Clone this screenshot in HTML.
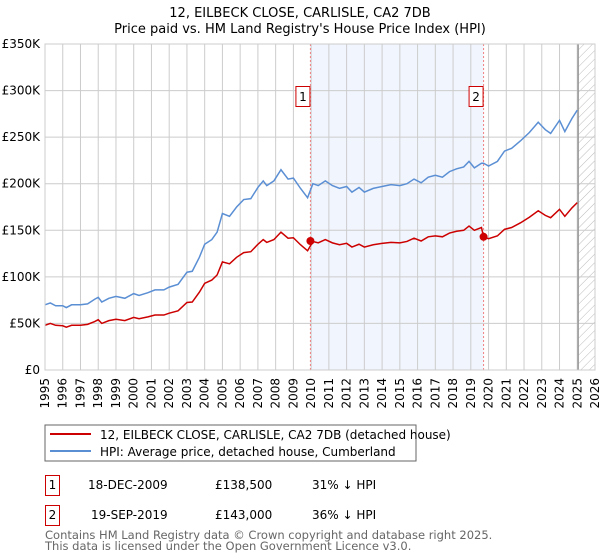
<!DOCTYPE html>
<html><head><meta charset="utf-8"><style>
body{margin:0;width:600px;height:560px;background:#fff;font-family:"Liberation Sans","DejaVu Sans",sans-serif;overflow:hidden}
svg{position:absolute;left:0;top:0}
.t{font-family:"DejaVu Sans","Liberation Sans",sans-serif}
</style></head><body>
<svg width="600" height="560">
<defs><pattern id="hatch" width="6" height="6" patternUnits="userSpaceOnUse" patternTransform="rotate(45)"><line x1="0" y1="0" x2="0" y2="6" stroke="#bbb" stroke-width="1"/></pattern></defs>
<text class="t" x="300" y="17" text-anchor="middle" font-size="13">12, EILBECK CLOSE, CARLISLE, CA2 7DB</text>
<text class="t" x="300" y="33" text-anchor="middle" font-size="13">Price paid vs. HM Land Registry's House Price Index (HPI)</text>
<g id="plot"></g>
<rect x="45" y="425" width="371" height="36" fill="#fff" stroke="#666"/>
<line x1="50" y1="434" x2="91" y2="434" stroke="#cc0000" stroke-width="2"/>
<text class="t" x="100" y="439" font-size="12">12, EILBECK CLOSE, CARLISLE, CA2 7DB (detached house)</text>
<line x1="50" y1="451" x2="91" y2="451" stroke="#5b8fd4" stroke-width="2"/>
<text class="t" x="100" y="456" font-size="12">HPI: Average price, detached house, Cumberland</text>
<g class="t" font-size="12">
<rect x="45.5" y="475.5" width="14" height="20" fill="#fff" stroke="#cc0000"/>
<text x="52.5" y="489" text-anchor="middle">1</text>
<text x="88" y="489">18-DEC-2009</text>
<text x="215" y="489">£138,500</text>
<text x="312" y="489">31% ↓ HPI</text>
<rect x="45.5" y="505.5" width="14" height="20" fill="#fff" stroke="#cc0000"/>
<text x="52.5" y="519" text-anchor="middle">2</text>
<text x="91" y="519">19-SEP-2019</text>
<text x="215" y="519">£143,000</text>
<text x="312" y="519">36% ↓ HPI</text>
</g>
<text class="t" x="45" y="539" font-size="11.5" fill="#666">Contains HM Land Registry data © Crown copyright and database right 2025.</text>
<text class="t" x="45" y="550" font-size="11.5" fill="#666">This data is licensed under the Open Government Licence v3.0.</text>
</svg>
<script>
const dates=[1995.0,1995.3,1995.6,1996.0,1996.2,1996.5,1997.0,1997.4,1997.8,1998.0,1998.2,1998.6,1999.0,1999.5,2000.0,2000.3,2000.8,2001.2,2001.7,2002.0,2002.5,2003.0,2003.3,2003.7,2004.0,2004.4,2004.7,2005.0,2005.4,2005.8,2006.2,2006.6,2007.0,2007.3,2007.5,2007.9,2008.3,2008.7,2009.0,2009.4,2009.8,2010.1,2010.4,2010.8,2011.2,2011.6,2012.0,2012.3,2012.7,2013.0,2013.5,2014.0,2014.5,2015.0,2015.4,2015.8,2016.2,2016.6,2017.0,2017.4,2017.8,2018.2,2018.6,2018.9,2019.2,2019.6,2019.72,2020.0,2020.5,2020.9,2021.3,2021.8,2022.3,2022.8,2023.2,2023.5,2024.0,2024.3,2024.7,2025.0];
const hpiValues=[70,72,69,69,67,70,70,71,76,78,73,77,79,77,82,80,83,86,86,89,92,105,106,121,135,140,148,168,165,175,183,184,196,203,198,203,215,205,206,195,185,200,198,203,198,195,197,191,196,191,195,197,199,198,200,205,201,207,209,207,213,216,218,224,217,222,222,219,224,235,238,246,255,266,258,254,268,256,270,279];
const priceValues=[48,50,48,47.5,46,48,48,49,52,54,50,53,54.5,53,56.5,55,57,59,59,61,63.5,72.5,73,83.5,93,96.5,102,116,114,121,126,127,135,140,137,140,148,141.5,142,134.5,128,138,136.5,140,136.5,134.5,136,132,135,132,134.5,136,137,136.5,138,141.5,138.5,143,144,143,147,149,150,154.5,150,153,143,141,144,151,153,158,164,171,166,163.5,172.5,165,174,179.7];
const saleDates=[2009.96,2019.72];
const salePrices=[138.5,143];
const yTicks=[0,50,100,150,200,250,300,350];
const yTickLabels=["£0","£50K","£100K","£150K","£200K","£250K","£300K","£350K"];
const xYears=[1995,1996,1997,1998,1999,2000,2001,2002,2003,2004,2005,2006,2007,2008,2009,2010,2011,2012,2013,2014,2015,2016,2017,2018,2019,2020,2021,2022,2023,2024,2025,2026];

const L=45,R=595,T=44,B=370,X0=1995,X1=2026,YMAX=350;
const xs=d=>L+(d-X0)/(X1-X0)*(R-L);
const ys=v=>B-v/YMAX*(B-T);
const NS="http://www.w3.org/2000/svg";
const g=document.getElementById('plot');
function mk(tag,attrs,parent){const e=document.createElementNS(NS,tag);for(const k in attrs)e.setAttribute(k,attrs[k]);(parent||g).appendChild(e);return e;}

const shade=mk('rect',{x:xs(saleDates[0]),y:T,width:xs(saleDates[1])-xs(saleDates[0]),height:B-T,fill:'#eef3fd',opacity:'0.8'});


const hat=mk('rect',{x:xs(2025.05),y:T,width:R-xs(2025.05),height:B-T,fill:'url(#hatch)'});



xYears.forEach(y=>{
  const l=mk('line',{x1:xs(y),x2:xs(y),y1:T,y2:B,stroke:'#ccc','stroke-width':1});
  
  
  const t=mk('text',{x:0,y:0,'font-size':12,'text-anchor':'end',class:'t',transform:`translate(${xs(y)+4},${B+8}) rotate(-90)`});
  t.textContent=y;
  
  
});
yTicks.forEach((v,i)=>{
  const l=mk('line',{x1:L,x2:R,y1:ys(v),y2:ys(v),stroke:'#ccc','stroke-width':1});
  
  
  const t=mk('text',{x:40,y:ys(v)+4,'font-size':12,'text-anchor':'end',class:'t'});
  t.textContent=yTickLabels[i];
  
  
});
const nowLine=mk('line',{x1:xs(2025.05),x2:xs(2025.05),y1:T,y2:B,stroke:'#999','stroke-width':1.5});



saleDates.forEach((d,i)=>{
  const l=mk('line',{x1:xs(d),x2:xs(d),y1:T,y2:B,stroke:'#f08080','stroke-width':1,'stroke-dasharray':'2,2'});
  
  
});

const hp=mk('polyline',{points:dates.map((d,i)=>xs(d)+','+ys(hpiValues[i])).join(' '),fill:'none',stroke:'#5b8fd4','stroke-width':1.5});


const pp=mk('polyline',{points:dates.map((d,i)=>xs(d)+','+ys(priceValues[i])).join(' '),fill:'none',stroke:'#cc0000','stroke-width':1.5});



saleDates.forEach((d,i)=>{
  const c=mk('circle',{cx:xs(d),cy:ys(salePrices[i]),r:4,fill:'#cc0000'});
  
  
  const bx=mk('rect',{x:xs(d)-14.5,y:86.5,width:14,height:20,fill:'#fff',stroke:'#cc0000'});
  
  
  const t=mk('text',{x:xs(d)-7.5,y:101,'font-size':12,'text-anchor':'middle',class:'t'});
  t.textContent=String(i+1);
  
  
});
const frame=mk('rect',{x:L,y:T,width:R-L,height:B-T,fill:'none',stroke:'#ccc'});


</script>
</body></html>
